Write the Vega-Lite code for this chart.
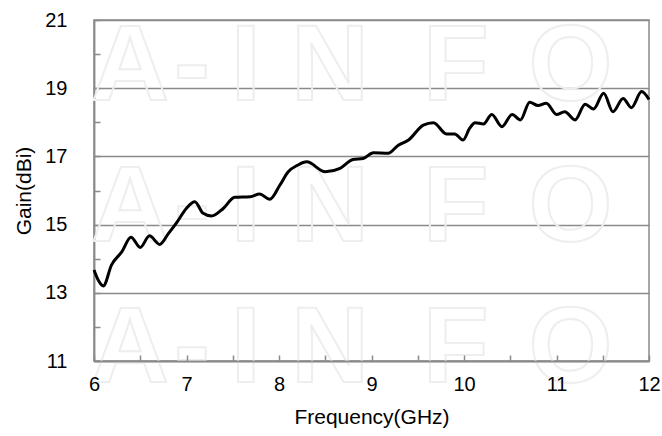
{
  "$schema": "https://vega.github.io/schema/vega-lite/v6.json",
  "autosize": "none",
  "width": 555,
  "height": 341,
  "padding": {"left": 94, "top": 20, "right": 13, "bottom": 75},
  "background": "white",
  "config": {
    "view": {"stroke": "#8a8a8a", "strokeWidth": 1.5},
    "font": "Liberation Sans",
    "axis": {
      "labelFont": "Liberation Sans",
      "titleFont": "Liberation Sans",
      "labelColor": "#000000",
      "titleColor": "#000000",
      "titleFontWeight": "normal",
      "domainColor": "#8a8a8a",
      "domainWidth": 1.5,
      "tickColor": "#8a8a8a",
      "tickWidth": 1.5,
      "gridColor": "#8a8a8a",
      "gridWidth": 1.5
    }
  },
  "datasets": {
    "gain": [
      {"f": 6.00, "g": 13.67}, {"f": 6.05, "g": 13.35}, {"f": 6.10, "g": 13.20},
      {"f": 6.19, "g": 13.82}, {"f": 6.30, "g": 14.20}, {"f": 6.40, "g": 14.63},
      {"f": 6.50, "g": 14.33}, {"f": 6.60, "g": 14.67}, {"f": 6.71, "g": 14.42},
      {"f": 6.80, "g": 14.72}, {"f": 6.89, "g": 15.04}, {"f": 7.00, "g": 15.48},
      {"f": 7.09, "g": 15.67}, {"f": 7.18, "g": 15.33}, {"f": 7.27, "g": 15.25},
      {"f": 7.40, "g": 15.48}, {"f": 7.52, "g": 15.80}, {"f": 7.69, "g": 15.82},
      {"f": 7.79, "g": 15.90}, {"f": 7.90, "g": 15.74}, {"f": 8.01, "g": 16.16},
      {"f": 8.10, "g": 16.55}, {"f": 8.20, "g": 16.74}, {"f": 8.30, "g": 16.84},
      {"f": 8.50, "g": 16.55}, {"f": 8.66, "g": 16.65}, {"f": 8.80, "g": 16.91},
      {"f": 8.91, "g": 16.94}, {"f": 9.02, "g": 17.11}, {"f": 9.18, "g": 17.09},
      {"f": 9.29, "g": 17.33}, {"f": 9.40, "g": 17.48}, {"f": 9.56, "g": 17.92},
      {"f": 9.67, "g": 17.99}, {"f": 9.81, "g": 17.66}, {"f": 9.90, "g": 17.66},
      {"f": 9.99, "g": 17.48}, {"f": 10.06, "g": 17.82}, {"f": 10.12, "g": 17.99},
      {"f": 10.21, "g": 17.95}, {"f": 10.30, "g": 18.23}, {"f": 10.41, "g": 17.87},
      {"f": 10.52, "g": 18.23}, {"f": 10.61, "g": 18.07}, {"f": 10.71, "g": 18.59},
      {"f": 10.80, "g": 18.49}, {"f": 10.89, "g": 18.56}, {"f": 11.00, "g": 18.23},
      {"f": 11.09, "g": 18.31}, {"f": 11.20, "g": 18.07}, {"f": 11.31, "g": 18.53},
      {"f": 11.40, "g": 18.39}, {"f": 11.51, "g": 18.85}, {"f": 11.61, "g": 18.31},
      {"f": 11.72, "g": 18.70}, {"f": 11.81, "g": 18.43}, {"f": 11.92, "g": 18.90},
      {"f": 12.00, "g": 18.67}
    ],
    "mark": [
      {"t": "A", "x": 6.39, "y": 19.58}, {"t": "-", "x": 7.06, "y": 19.58},
      {"t": "I", "x": 7.64, "y": 19.58}, {"t": "N", "x": 8.55, "y": 19.58},
      {"t": "F", "x": 9.91, "y": 19.58}, {"t": "O", "x": 11.15, "y": 19.58},
      {"t": "A", "x": 6.39, "y": 15.45}, {"t": "-", "x": 7.06, "y": 15.45},
      {"t": "I", "x": 7.64, "y": 15.45}, {"t": "N", "x": 8.55, "y": 15.45},
      {"t": "F", "x": 9.91, "y": 15.45}, {"t": "O", "x": 11.15, "y": 15.45},
      {"t": "A", "x": 6.39, "y": 11.31}, {"t": "-", "x": 7.06, "y": 11.31},
      {"t": "I", "x": 7.64, "y": 11.31}, {"t": "N", "x": 8.55, "y": 11.31},
      {"t": "F", "x": 9.91, "y": 11.31}, {"t": "O", "x": 11.15, "y": 11.31}
    ]
  },
  "resolve": {"axis": {"x": "independent", "y": "independent"}},
  "layer": [
    {
      "data": {"name": "mark"},
      "mark": {"type": "text", "fontSize": 108, "fontWeight": "bold", "font": "Liberation Sans", "baseline": "middle", "align": "center", "fill": null, "fillOpacity": 0, "stroke": "#eeeeee", "strokeWidth": 2},
      "encoding": {
        "x": {
          "field": "x", "type": "quantitative",
          "scale": {"domain": [6, 12], "nice": false, "zero": false},
          "axis": {
            "orient": "bottom",
            "title": null,
            "values": [6.5, 7.5, 8.5, 9.5, 10.5, 11.5],
            "labels": false,
            "grid": false,
            "tickSize": -6,
            "zindex": 1
          }
        },
        "y": {
          "field": "y", "type": "quantitative",
          "scale": {"domain": [11, 21], "nice": false, "zero": false},
          "axis": {
            "orient": "left",
            "title": null,
            "values": [12, 14, 16, 18, 20],
            "labels": false,
            "grid": false,
            "tickSize": -6
          }
        },
        "text": {"field": "t"}
      }
    },
    {
      "data": {"name": "gain"},
      "mark": {"type": "line", "color": "#000000", "strokeWidth": 3, "interpolate": "monotone"},
      "encoding": {
        "x": {
          "field": "f", "type": "quantitative",
          "scale": {"domain": [6, 12], "nice": false, "zero": false},
          "axis": {
            "orient": "bottom",
            "title": "Frequency(GHz)",
            "values": [6, 7, 8, 9, 10, 11, 12],
            "format": "d",
            "grid": false,
            "tickSize": -6,
            "labelFontSize": 20,
            "labelPadding": 19,
            "titleFontSize": 21,
            "titlePadding": 12,
            "labelFlush": false,
            "zindex": 1
          }
        },
        "y": {
          "field": "g", "type": "quantitative",
          "scale": {"domain": [11, 21], "nice": false, "zero": false},
          "axis": {
            "orient": "left",
            "title": "Gain(dBi)",
            "values": [11, 13, 15, 17, 19, 21],
            "format": "d",
            "grid": true,
            "tickSize": -6,
            "labelFontSize": 20,
            "labelPadding": 33,
            "titleFontSize": 21,
            "titlePadding": 10,
            "labelFlush": false
          }
        }
      }
    }
  ]
}
